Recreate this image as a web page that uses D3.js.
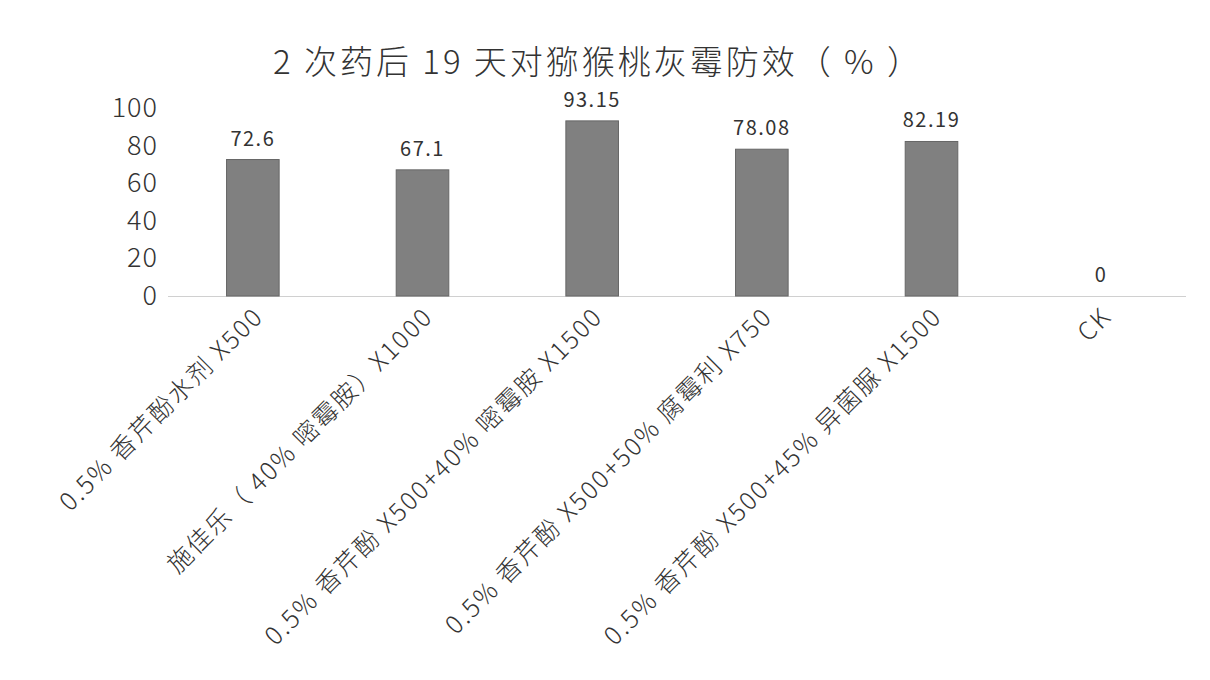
<!DOCTYPE html>
<html><head><meta charset="utf-8">
<script src="https://cdn.jsdelivr.net/npm/d3@7/dist/d3.min.js"></script>
<style>body{margin:0;background:#fff}text{font-family:"Noto Sans CJK SC","Noto Sans",sans-serif}</style>
</head><body><svg id="c" width="1210" height="680"></svg>
<script>
const categories=["0.5% 香芹酚水剂 X500","施佳乐（ 40% 嘧霉胺）X1000","0.5% 香芹酚 X500+40% 嘧霉胺 X1500","0.5% 香芹酚 X500+50% 腐霉利 X750","0.5% 香芹酚 X500+45% 异菌脲 X1500","CK"];
const values=[72.6,67.1,93.15,78.08,82.19,0];
const valueLabels=["72.6","67.1","93.15","78.08","82.19","0"];
const yTicks=[0,20,40,60,80,100];
const svg=d3.select("#c");
const x=d3.scaleBand().domain(categories).range([168,1186]).paddingInner(0.69).paddingOuter(0.345);
const y=d3.scaleLinear().domain([0,100]).range([296,108]);
svg.append("text").attr("x",598).attr("y",74).attr("text-anchor","middle").attr("font-size",33).attr("font-weight",300).attr("letter-spacing",3).attr("fill","#333").text("2 次药后 19 天对猕猴桃灰霉防效（ % ）");
svg.append("line").attr("x1",168).attr("x2",1186).attr("y1",y(0)+0.5).attr("y2",y(0)+0.5).attr("stroke","#d0d0d0");
svg.selectAll(".yt").data(yTicks).join("text").attr("x",158).attr("y",d=>y(d)+9).attr("text-anchor","end").attr("font-size",27).attr("font-weight",300).attr("letter-spacing",1).attr("fill","#333").text(d=>d);
svg.selectAll(".bar").data(values).join("rect").attr("x",(d,i)=>x(categories[i])).attr("width",x.bandwidth()).attr("y",d=>y(d)).attr("height",d=>y(0)-y(d)).attr("fill","#808080").attr("stroke","#666").attr("stroke-width",1);
svg.selectAll(".vl").data(values).join("text").attr("x",(d,i)=>x(categories[i])+x.bandwidth()/2).attr("y",d=>y(d)-14).attr("text-anchor","middle").attr("font-size",20).attr("letter-spacing",1.5).attr("fill","#333").text((d,i)=>valueLabels[i]);
svg.selectAll(".cl").data(categories).join("text").attr("transform",d=>`translate(${x(d)+x.bandwidth()/2+12},${318}) rotate(-45)`).attr("text-anchor","end").attr("font-size",25).attr("font-weight",300).attr("letter-spacing",2).attr("fill","#333").text(d=>d);
</script></body></html>
